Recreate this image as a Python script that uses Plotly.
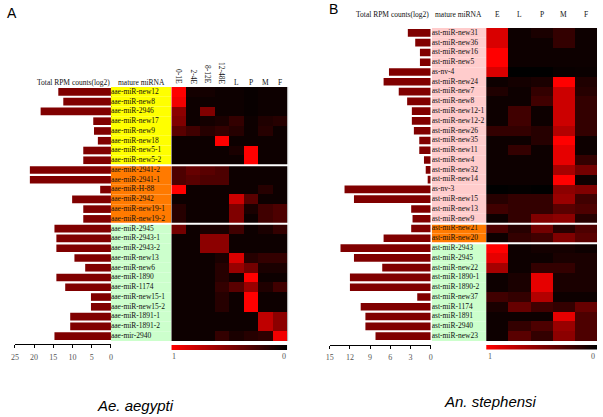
import numpy as np
import plotly.graph_objects as go

W, H = 603, 417
def px(x): return x / W
def py(y): return 1 - y / H

SERIF = "Liberation Serif"
SANS = "Liberation Sans"

# ---------------- Panel A data (Ae. aegypti) ----------------
a_mirna = ["aae-miR-new12", "aae-miR-new8", "aae-miR-2946", "aae-miR-new17", "aae-miR-new9",
           "aae-miR-new18", "aae-miR-new5-1", "aae-miR-new5-2",
           "aae-miR-2941-2", "aae-miR-2941-1", "aae-miR-H-88", "aae-miR-2942",
           "aae-miR-new19-1", "aae-miR-new19-2",
           "aae-miR-2945", "aae-miR-2943-1", "aae-miR-2943-2", "aae-miR-new13", "aae-miR-new6",
           "aae-miR-1890", "aae-miR-1174", "aae-miR-new15-1", "aae-miR-new15-2",
           "aae-miR-1891-1", "aae-miR-1891-2", "aae-mir-2940"]
a_group_sizes = [8, 6, 12]
a_group_colors = ["#ffff00", "#ff7a00", "#ccffcc"]
a_total_rpm = [13.7, 12.4, 18.3, 4.6, 4.4, 3.4, 7.2, 7.2,
               21.1, 21.1, 2.8, 10.1, 7.2, 7.2,
               14.7, 14.2, 14.2, 9.5, 6.7, 14.2, 11.9, 5.2, 5.2, 10.6, 10.6, 14.7]
a_stages = ["0-1E", "2-4E", "8-12E", "12-48E", "L", "P", "M", "F"]
a_expr = [
    [1.00, 0.08, 0.08, 0.05, 0.05, 0.03, 0.05, 0.05],
    [0.95, 0.05, 0.05, 0.05, 0.05, 0.03, 0.05, 0.05],
    [0.55, 0.05, 0.50, 0.05, 0.05, 0.03, 0.05, 0.05],
    [0.50, 0.05, 0.08, 0.10, 0.20, 0.05, 0.12, 0.15],
    [0.35, 0.25, 0.15, 0.20, 0.15, 0.05, 0.15, 0.05],
    [0.05, 0.05, 0.05, 1.00, 0.05, 0.05, 0.05, 0.05],
    [0.05, 0.05, 0.05, 0.05, 0.10, 1.00, 0.05, 0.05],
    [0.05, 0.05, 0.05, 0.05, 0.05, 1.00, 0.05, 0.05],
    [0.30, 0.40, 0.35, 0.30, 0.05, 0.05, 0.05, 0.05],
    [0.30, 0.35, 0.30, 0.30, 0.05, 0.05, 0.05, 0.05],
    [1.00, 0.05, 0.05, 0.05, 0.05, 0.05, 0.15, 0.05],
    [0.05, 0.05, 0.05, 0.05, 0.80, 0.35, 0.05, 0.05],
    [0.15, 0.05, 0.05, 0.05, 0.50, 0.10, 0.25, 0.30],
    [0.15, 0.05, 0.05, 0.05, 0.50, 0.05, 0.25, 0.30],
    [0.45, 0.05, 0.10, 0.10, 0.25, 0.05, 0.10, 0.20],
    [0.05, 0.05, 0.55, 0.55, 0.05, 0.05, 0.05, 0.05],
    [0.05, 0.05, 0.55, 0.55, 0.05, 0.05, 0.05, 0.05],
    [0.05, 0.05, 0.05, 0.10, 0.85, 0.15, 0.20, 0.20],
    [0.05, 0.05, 0.05, 0.15, 0.60, 0.45, 0.10, 0.10],
    [0.05, 0.05, 0.05, 0.15, 0.05, 1.00, 0.05, 0.05],
    [0.05, 0.05, 0.05, 0.20, 0.35, 0.60, 0.12, 0.25],
    [0.05, 0.05, 0.05, 0.15, 0.05, 1.00, 0.05, 0.05],
    [0.05, 0.05, 0.05, 0.15, 0.05, 1.00, 0.05, 0.05],
    [0.05, 0.05, 0.05, 0.05, 0.05, 0.05, 0.75, 0.55],
    [0.05, 0.05, 0.05, 0.05, 0.05, 0.05, 0.75, 0.55],
    [0.05, 0.05, 0.05, 0.20, 0.10, 0.15, 0.18, 0.95],
]
a_ticks = [0, 5, 10, 15, 20, 25]

# ---------------- Panel B data (An. stephensi) ----------------
b_mirna = ["ast-miR-new31", "ast-miR-new36", "ast-miR-new16", "ast-miR-new5", "as-nv-4",
           "ast-miR-new24", "ast-miR-new7", "ast-miR-new8", "ast-miR-new12-1", "ast-miR-new12-2",
           "ast-miR-new26", "ast-miR-new35", "ast-miR-new11", "ast-miR-new4", "ast-miR-new32",
           "ast-miR-new14", "as-nv-3", "ast-miR-new15", "ast-miR-new13", "ast-miR-new9",
           "ast-miR-new21", "ast-miR-new20",
           "ast-miR-2943", "ast-miR-2945", "ast-miR-new22", "ast-miR-1890-1", "ast-miR-1890-2",
           "ast-miR-new37", "ast-miR-1174", "ast-miR-1891", "ast-miR-2940", "ast-miR-new23"]
b_group_sizes = [20, 2, 10]
b_group_colors = ["#ffcccc", "#ff7a00", "#ccffcc"]
b_total_rpm = [3.4, 2.3, 1.6, 1.6, 6.2, 7.0, 4.75, 3.5, 2.8, 2.8,
               2.5, 1.7, 1.7, 1.0, 0.74, 0.45, 12.8, 11.4, 2.9, 2.7,
               2.9, 7.0,
               13.4, 11.4, 7.2, 12.0, 12.0, 2.0, 10.4, 9.7, 9.7, 8.2]
b_stages = ["E", "L", "P", "M", "F"]
b_expr = [
    [0.85, 0.05, 0.10, 0.20, 0.05],
    [0.85, 0.05, 0.05, 0.20, 0.05],
    [1.00, 0.05, 0.05, 0.05, 0.05],
    [1.00, 0.05, 0.05, 0.05, 0.05],
    [0.85, 0.00, 0.00, 0.03, 0.04],
    [0.05, 0.08, 0.10, 1.00, 0.12],
    [0.12, 0.05, 0.20, 0.80, 0.15],
    [0.05, 0.05, 0.25, 0.80, 0.20],
    [0.05, 0.25, 0.05, 0.80, 0.20],
    [0.05, 0.25, 0.05, 0.80, 0.20],
    [0.20, 0.20, 0.15, 0.70, 0.20],
    [0.05, 0.05, 0.15, 1.00, 0.05],
    [0.05, 0.20, 0.05, 0.90, 0.05],
    [0.05, 0.05, 0.05, 0.90, 0.20],
    [0.05, 0.05, 0.05, 0.65, 0.45],
    [0.05, 0.05, 0.05, 1.00, 0.05],
    [0.00, 0.01, 0.00, 0.55, 0.50],
    [0.15, 0.20, 0.20, 0.60, 0.25],
    [0.25, 0.20, 0.20, 0.35, 0.30],
    [0.05, 0.20, 0.50, 0.55, 0.15],
    [0.30, 0.15, 0.45, 0.15, 0.30],
    [0.05, 0.20, 0.25, 0.50, 0.35],
    [1.00, 0.05, 0.08, 0.08, 0.05],
    [0.90, 0.05, 0.05, 0.10, 0.10],
    [0.65, 0.05, 0.20, 0.20, 0.10],
    [0.05, 0.10, 0.90, 0.10, 0.10],
    [0.05, 0.10, 0.90, 0.10, 0.10],
    [0.25, 0.20, 0.70, 0.05, 0.05],
    [0.10, 0.40, 0.25, 0.20, 0.40],
    [0.05, 0.05, 0.05, 0.90, 0.30],
    [0.05, 0.20, 0.30, 0.60, 0.30],
    [0.05, 0.35, 0.20, 0.55, 0.30],
]
b_ticks = [0, 3, 6, 9, 12, 15]

colorscale = [[0.0, "#000000"], [1.0, "#ff0000"]]
bar_color = "#800000"
legend_gradient = np.linspace(1, 0, 101)  # colour key (1 -> 0)

fig = go.Figure()
shapes = []
annotations = []


def row_colors(sizes, colors):
    out = []
    for s, c in zip(sizes, colors):
        out += [c] * s
    return out


def panel(mirna, sizes, colors, totals, expr, stages,
          xb, xl, xh, xk, yk, yrow, lab0, heat1, edge=False):
    n = len(mirna)
    rows = list(range(n))
    fig.add_trace(go.Bar(x=totals, y=rows, orientation="h", width=0.78,
                         marker=dict(color=bar_color, line=dict(width=0)),
                         xaxis=xb, yaxis=yrow, hoverinfo="skip"))
    fig.add_trace(go.Bar(x=[1] * n, y=rows, orientation="h", width=1.0,
                         marker=dict(color=row_colors(sizes, colors), line=dict(width=0)),
                         xaxis=xl, yaxis=yrow, hoverinfo="skip"))
    fig.add_trace(go.Scatter(x=[0] * n, y=rows, mode="text", text=mirna,
                             textposition="middle right",
                             textfont=dict(family=SERIF, size=7.5, color="#111"),
                             xaxis=xl, yaxis=yrow, hoverinfo="skip"))
    fig.add_trace(go.Heatmap(z=expr, x=list(range(len(stages))), y=rows,
                             zmin=0, zmax=1, colorscale=colorscale, showscale=False,
                             xaxis=xh, yaxis=yrow, hoverinfo="skip"))
    fig.add_trace(go.Heatmap(z=[list(legend_gradient)], x=list(legend_gradient), y=[0],
                             zmin=0, zmax=1, colorscale=colorscale, showscale=False,
                             xaxis=xk, yaxis=yk, hoverinfo="skip"))
    if edge:
        shapes.append(dict(type="line", xref="paper", yref=yrow,
                           x0=px(heat1 + 0.5), x1=px(heat1 + 0.5),
                           y0=-0.5, y1=n - 0.5,
                           line=dict(color="#aaaaaa", width=1), layer="above"))
    acc = 0
    for s in sizes[:-1]:
        acc += s
        shapes.append(dict(type="line", xref="paper", yref=yrow,
                           x0=px(lab0), x1=px(heat1 + 1),
                           y0=acc - 0.5, y1=acc - 0.5,
                           line=dict(color="white", width=2), layer="above"))
    return n


nA = panel(a_mirna, a_group_sizes, a_group_colors, a_total_rpm, a_expr, a_stages,
           "x", "x2", "x3", "x4", "y2", "y", 108, 286, edge=True)
nB = panel(b_mirna, b_group_sizes, b_group_colors, b_total_rpm, b_expr, b_stages,
           "x5", "x6", "x7", "x8", "y4", "y3", 432, 599)

hidden = dict(visible=False, showgrid=False, zeroline=False, fixedrange=True)
tickfont = dict(family=SERIF, size=8, color="#555")
bar_axis = dict(showgrid=False, zeroline=False, showline=True, linecolor="#000", linewidth=1,
                ticks="outside", ticklen=3, tickcolor="#000", tickfont=tickfont,
                ticklabelstandoff=2, anchor="free")

fig.update_layout(
    width=W, height=H, margin=dict(l=0, r=0, t=0, b=0),
    paper_bgcolor="white", plot_bgcolor="white", showlegend=False,
    xaxis=dict(bar_axis, domain=[px(11), px(108)], range=[25, 0], tickvals=a_ticks,
               position=py(344)),
    yaxis=dict(domain=[py(341), py(87)], range=[nA - 0.5, -0.5], anchor="x", side="right",
               showline=True, linecolor="#000", linewidth=1, showticklabels=False,
               ticks="", showgrid=False, zeroline=False),
    xaxis2=dict(hidden, domain=[px(108), px(169)], range=[0, 1], anchor="y"),
    xaxis3=dict(hidden, domain=[px(169), px(286)], range=[-0.5, len(a_stages) - 0.5], anchor="y"),
    xaxis4=dict(hidden, domain=[px(169), px(286)], range=[1.005, -0.005], anchor="y2"),
    yaxis2=dict(hidden, domain=[py(350), py(345)], range=[-0.5, 0.5], anchor="x4"),
    xaxis5=dict(bar_axis, domain=[px(329), px(431)], range=[15, 0], tickvals=b_ticks,
                position=py(344.5)),
    yaxis3=dict(hidden, domain=[py(341), py(28)], range=[nB - 0.5, -0.5], anchor="x5"),
    xaxis6=dict(hidden, domain=[px(432), px(487)], range=[0, 1], anchor="y3"),
    xaxis7=dict(hidden, domain=[px(487), px(599)], range=[-0.5, len(b_stages) - 0.5], anchor="y3"),
    xaxis8=dict(hidden, domain=[px(487), px(599)], range=[1.005, -0.005], anchor="y4"),
    yaxis4=dict(hidden, domain=[py(349.5), py(345)], range=[-0.5, 0.5], anchor="x8"),
)

hdr = dict(family=SERIF, size=7.5, color="#111")


def ann(text, x, y, xref="paper", font=hdr, **kw):
    d = dict(text=text, x=x, y=y, xref=xref, yref="paper", showarrow=False, font=font,
             xanchor="center", yanchor="middle")
    d.update(kw)
    annotations.append(d)


ann("A", px(8.5), py(12.5), font=dict(family=SANS, size=14, color="#000"))
ann("B", px(333), py(9.5), font=dict(family=SANS, size=14, color="#000"))

ann("Total RPM counts(log2)", px(70), py(82))
ann("mature miRNA", px(138.5), py(82))
for i, s in enumerate(a_stages):
    if i < 4:
        ann(s, i, py(86), xref="x3", textangle=90, yanchor="bottom")
    else:
        ann(s, i, py(82), xref="x3")
ann("Total RPM counts(log2)", px(392.5), py(14))
ann("mature miRNA", px(459.5), py(14))
for i, s in enumerate(b_stages):
    ann(s, i, py(14), xref="x7")

keyfont = dict(family=SERIF, size=8, color="#555")
ann("1", px(172), py(356), font=keyfont)
ann("0", px(283), py(356), font=keyfont)
ann("1", px(491), py(356), font=keyfont)
ann("0", px(595), py(356), font=keyfont)

capfont = dict(family=SANS, size=15, color="#000")
ann("<i>Ae. aegypti</i>", px(132.5), py(405), font=capfont)
ann("<i>An. stephensi</i>", px(491), py(401), font=capfont)

fig.update_layout(shapes=shapes, annotations=annotations)
fig.write_html("out.html", config={"displayModeBar": False},
               post_script="document.body.style.margin='0';")
